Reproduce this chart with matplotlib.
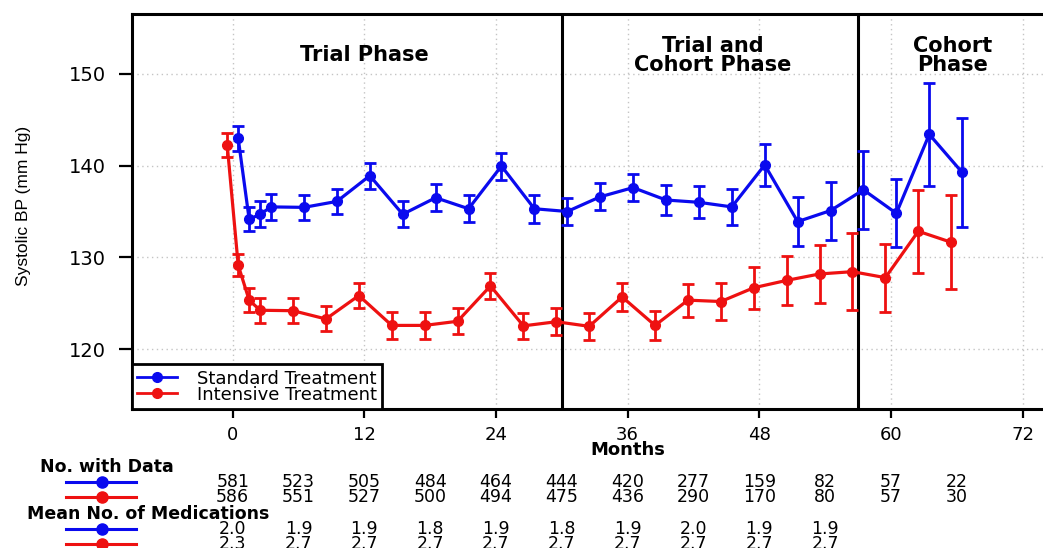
import matplotlib
matplotlib.use("Agg")
import matplotlib.pyplot as plt
from matplotlib import transforms
from matplotlib.lines import Line2D

# ---------------- data ----------------
months = [0, 1, 2, 3, 6, 9, 12, 15, 18, 21, 24, 27, 30, 33, 36, 39, 42, 45, 48, 51, 54, 57, 60, 63, 66]
std_mean = [142.98, 134.15, 134.7, 135.5, 135.45, 136.1, 138.9, 134.7, 136.5, 135.3, 139.95, 135.3,
            135.0, 136.6, 137.6, 136.25, 136.0, 135.5, 140.07, 133.9, 135.1, 137.36, 134.8, 143.4, 139.25]
std_err = [1.35, 1.3, 1.4, 1.4, 1.36, 1.38, 1.42, 1.43, 1.45, 1.45, 1.47, 1.5, 1.45, 1.45, 1.5,
           1.65, 1.75, 1.96, 2.3, 2.67, 3.15, 4.25, 3.7, 5.6, 5.95]
int_mean = [142.25, 129.16, 125.35, 124.25, 124.2, 123.3, 125.85, 122.6, 122.6, 123.05, 126.9, 122.55,
            123.0, 122.5, 125.7, 122.6, 125.35, 125.2, 126.7, 127.5, 128.2, 128.45, 127.8, 132.85, 131.65]
int_err = [1.3, 1.2, 1.3, 1.35, 1.36, 1.36, 1.4, 1.45, 1.47, 1.4, 1.42, 1.45, 1.45, 1.5, 1.5,
           1.6, 1.8, 2.0, 2.27, 2.67, 3.15, 4.2, 3.7, 4.5, 5.1]

table_months = [0, 6, 12, 18, 24, 30, 36, 42, 48, 54, 60, 66]
n_std = [581, 523, 505, 484, 464, 444, 420, 277, 159, 82, 57, 22]
n_int = [586, 551, 527, 500, 494, 475, 436, 290, 170, 80, 57, 30]
med_months = [0, 6, 12, 18, 24, 30, 36, 42, 48, 54]
med_std = ["2.0", "1.9", "1.9", "1.8", "1.9", "1.8", "1.9", "2.0", "1.9", "1.9"]
med_int = ["2.3", "2.7", "2.7", "2.7", "2.7", "2.7", "2.7", "2.7", "2.7", "2.7"]

phase_bounds = [30, 57]
phase_labels = ["Trial Phase", "Trial and\nCohort Phase", "Cohort\nPhase"]
phase_label_x = [12, 43.8, 65.6]
x_ticks = [0, 12, 24, 36, 48, 60, 72]
y_ticks = [120, 130, 140, 150]
series_names = ["Standard Treatment", "Intensive Treatment"]

# ---------------- style ----------------
BLUE = "#0a0aee"
RED = "#ee1111"
DODGE = 0.5
plt.rcParams["font.family"] = ["DejaVu Sans"]

W, H = 1043, 548
fig = plt.figure(figsize=(W / 100, H / 100), dpi=100)

# overlay axes in pixel coordinates for the bottom table / labels
ov = fig.add_axes([0, 0, 1, 1])
ov.set_xlim(0, W)
ov.set_ylim(H, 0)
ov.axis("off")
ov.patch.set_alpha(0)

left_px, right_px, top_px, bot_px = 132, 1070, 14, 409
ax = fig.add_axes([left_px / W, (H - bot_px) / H, (right_px - left_px) / W, (bot_px - top_px) / H])
ax.set_xlim(-9.18, 76.33)
ax.set_ylim(113.5, 156.5)

ax.set_xticks(x_ticks)
ax.set_yticks(y_ticks)
ax.tick_params(axis="x", length=6.5, width=1.6, pad=6, labelsize=13, direction="out")
ax.tick_params(axis="y", length=9.5, width=1.6, pad=9, labelsize=14, direction="out")
ax.grid(True, linestyle=(0, (1, 2.5)), color="#c4c4c4", linewidth=1.0)
ax.set_axisbelow(True)
for s in ["left", "top", "bottom"]:
    ax.spines[s].set_linewidth(2.2)
    ax.spines[s].set_color("black")
ax.spines["right"].set_visible(False)

for b in phase_bounds:
    ax.axvline(b, color="black", linewidth=2.2, zorder=4)

x_std = [m + DODGE for m in months]
x_int = [m - DODGE for m in months]
ax.errorbar(x_std, std_mean, yerr=std_err, color=BLUE, lw=2.3, marker="o", ms=7,
            elinewidth=2.0, capsize=4.5, capthick=2.0, zorder=5)
ax.errorbar(x_int, int_mean, yerr=int_err, color=RED, lw=2.3, marker="o", ms=7,
            elinewidth=2.0, capsize=4.5, capthick=2.0, zorder=5)

for lx, lab in zip(phase_label_x, phase_labels):
    ax.text(lx, 152.0, lab, ha="center", va="center", fontsize=15, fontweight="bold",
            linespacing=0.95, zorder=6)

handles = [Line2D([], [], color=BLUE, lw=2, marker="o", ms=7),
           Line2D([], [], color=RED, lw=2, marker="o", ms=7)]
leg = ax.legend(handles, series_names, loc="lower left", borderaxespad=0, fontsize=13,
                frameon=True, fancybox=False, edgecolor="black", framealpha=1,
                numpoints=1, handlelength=2.2, handletextpad=1.1, labelspacing=-0.12,
                borderpad=0.3)
leg.get_frame().set_linewidth(2.0)
leg.set_zorder(7)

# y label
ov.text(24, 205.5, "Systolic BP (mm Hg)", rotation=90, ha="center", va="center",
        fontsize=12.5, family=["Liberation Sans Narrow", "Liberation Sans"])

# months label and table
tr = transforms.blended_transform_factory(ax.transData, ov.transData)
ax.text(36, 450, "Months", transform=tr, ha="center", va="center", fontsize=13,
        fontweight="bold", clip_on=False)

ov.text(40, 466.7, "No. with Data", ha="left", va="center", fontsize=12.5, fontweight="bold")
ov.text(27, 514, "Mean No. of Medications", ha="left", va="center", fontsize=12.5, fontweight="bold")

for yrow, col in [(481.7, BLUE), (496.7, RED), (529, BLUE), (544, RED)]:
    ov.plot([66, 136], [yrow, yrow], color=col, lw=2.2)
    ov.plot([102], [yrow], marker="o", color=col, ms=8)

for m, a, b in zip(table_months, n_std, n_int):
    ax.text(m, 481.7, str(a), transform=tr, ha="center", va="center", fontsize=12.5, clip_on=False)
    ax.text(m, 496.7, str(b), transform=tr, ha="center", va="center", fontsize=12.5, clip_on=False)
for m, a, b in zip(med_months, med_std, med_int):
    ax.text(m, 529, a, transform=tr, ha="center", va="center", fontsize=12.5, clip_on=False)
    ax.text(m, 544, b, transform=tr, ha="center", va="center", fontsize=12.5, clip_on=False)

fig.savefig("out.png", dpi=100)
